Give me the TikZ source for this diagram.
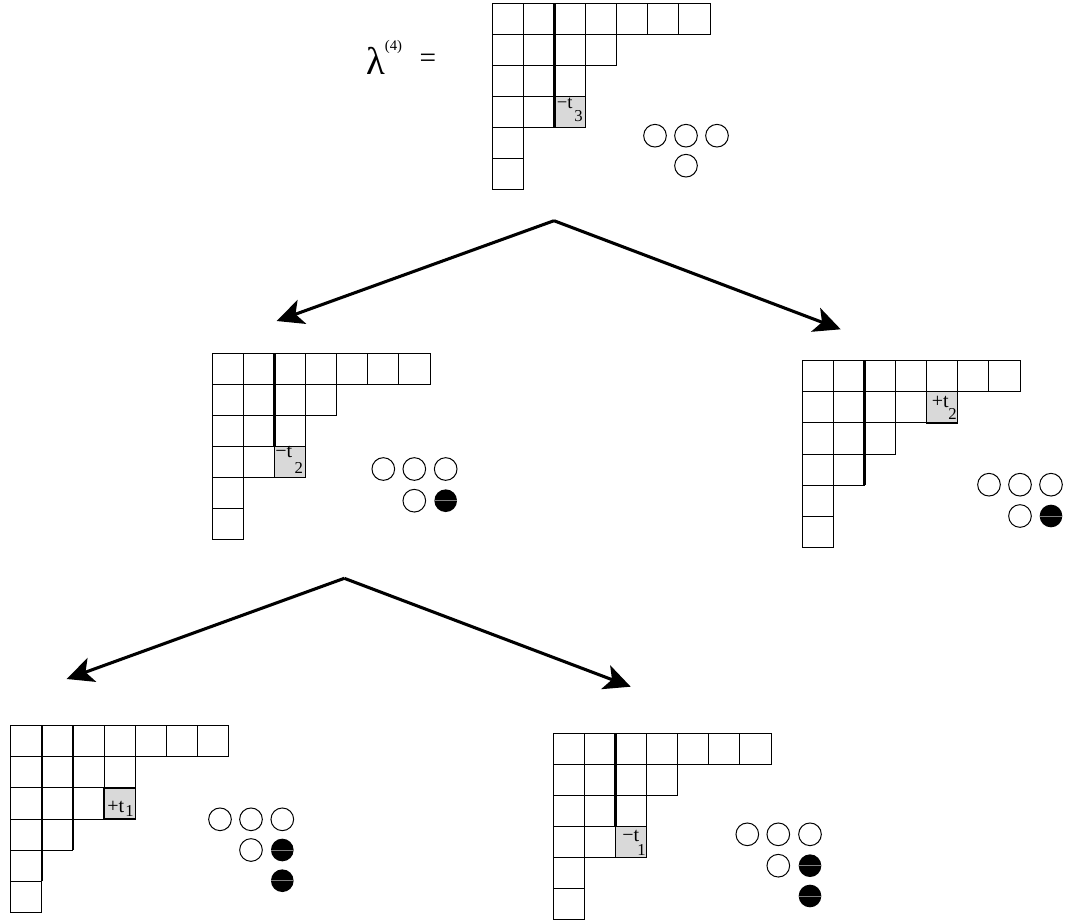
\documentclass[tikz,border=0pt]{standalone}
\usepackage{fontspec}
\setmainfont{Liberation Serif}
\usetikzlibrary{arrows.meta}
\tikzset{
  x=0.75pt, y=-0.75pt,
  cell/.style={draw=black, line width=0.75pt},
  shadebox/.style={draw=black, line width=0.9pt, fill=black!15},
  thickln/.style={line width=1.9pt},
  arr/.style={line width=2.3pt, line join=miter, -{Stealth[length=20pt,width=19pt,inset=5pt]}},
  wc/.style={draw=black, line width=0.75pt},
  bc/.style={fill=black},
  midln/.style={draw=gray, line width=0.4pt},
  lab/.style={inner sep=0pt, anchor=base west, font=\fontsize{15}{18}\selectfont},
  sublab/.style={inner sep=0pt, anchor=center, font=\fontsize{12.5}{14}\selectfont},
}
\def\cs{31.1}
\newcommand\ydiag[3]{%
  \foreach \len [count=\r from 0] in {#3}{%
    \foreach \c in {1,...,\len}{%
      \draw[cell] ({#1+(\c-1)*\cs},{#2+\r*\cs}) rectangle ++(\cs,\cs);
    }}}
\newcommand\shadecell[4]{\draw[shadebox] ({#1+#4*\cs},{#2+#3*\cs}) rectangle ++(\cs,\cs);}
\newcommand\thickcol[4]{\draw[thickln] ({#1+#3*\cs},{#2}) -- ++(0,{#4*\cs});}
\newcommand\wcirc[2]{\draw[wc] (#1,#2) circle[radius=8.5pt];}
\newcommand\bcirc[2]{\fill[bc] (#1,#2) circle[radius=8.5pt]; \draw[midln] ({#1-11.3},#2) -- ({#1+11.3},#2);}
\begin{document}
\begin{tikzpicture}
\useasboundingbox (0,0) rectangle (1065,922);

% ---------- top diagram ----------
\node[inner sep=0pt, font=\fontsize{29}{32}\selectfont] (lam) at (375.5,61) {λ};
\node[inner sep=0pt, font=\fontsize{11}{13}\selectfont] (lamsup) at (393.5,46.5) {(4)};
\node[inner sep=0pt, font=\fontsize{22}{26}\selectfont] (eq) at (428,61) {=};
\ydiag{492.3}{3.3}{7,4,3,3,1,1}
\shadecell{492.3}{3.3}{3}{2}
\thickcol{492.3}{3.3}{2}{4}
\node[lab, font=\fontsize{14}{16}\selectfont] (l0) at (556.5,108.5) {−t};
\node[sublab] (s0) at (578.5,116) {3};
\wcirc{655}{135.7}\wcirc{686}{135.7}\wcirc{717}{135.7}
\wcirc{686}{165.7}

% ---------- middle left ----------
\ydiag{212.3}{353.3}{7,4,3,3,1,1}
\shadecell{212.3}{353.3}{3}{2}
\thickcol{212.3}{353.3}{2}{3}
\node[lab] (l1) at (275,457) {−t};
\node[sublab] (s1) at (298.8,468) {2};
\wcirc{383.3}{469}\wcirc{414.3}{469}\wcirc{445.7}{469}
\wcirc{414.3}{500.7}\bcirc{445.7}{500.7}

% ---------- middle right ----------
\ydiag{802.3}{360.7}{7,5,3,2,1,1}
\shadecell{802.3}{360.7}{1}{4}
\thickcol{802.3}{360.7}{2}{4}
\node[lab] (l2) at (931.5,407) {+t};
\node[sublab] (s2) at (952.5,414) {2};
\wcirc{989}{484.7}\wcirc{1020}{484.7}\wcirc{1051}{484.7}
\wcirc{1020}{516}\bcirc{1051}{516}

% ---------- bottom left ----------
\ydiag{10.7}{725.7}{7,4,4,2,1,1}
\shadecell{10.7}{725.7}{2}{3}
\thickcol{10.7}{725.7}{1}{5}
\thickcol{10.7}{725.7}{2}{4}
\node[lab] (l3) at (107,812) {+t};
\node[sublab] (s3) at (129.5,811) {1};
\wcirc{220}{819.3}\wcirc{251}{819.3}\wcirc{282.3}{819.3}
\wcirc{251}{850}\bcirc{282.3}{850}
\bcirc{282.3}{880.7}

% ---------- bottom right ----------
\ydiag{553.3}{733.3}{7,4,3,3,1,1}
\shadecell{553.3}{733.3}{3}{2}
\thickcol{553.3}{733.3}{2}{3}
\node[lab] (l4) at (622,841) {−t};
\node[sublab] (s4) at (641.5,850) {1};
\wcirc{747.3}{834.3}\wcirc{778.3}{834.3}\wcirc{810}{834.3}
\wcirc{778.3}{865.7}\bcirc{810}{865.7}
\bcirc{810}{896}

% ---------- arrows ----------
\coordinate (apex1) at (554,220.7);
\coordinate (tipL1) at (276.7,321);
\coordinate (tipR1) at (840.7,329.3);
\coordinate (apex2) at (344.3,578.3);
\coordinate (tipL2) at (66.7,679);
\coordinate (tipR2) at (630.7,686.7);
\draw[arr] (apex1) -- (tipL1);
\draw[arr] (apex1) -- (tipR1);
\draw[arr] (apex2) -- (tipL2);
\draw[arr] (apex2) -- (tipR2);
\end{tikzpicture}
\end{document}
